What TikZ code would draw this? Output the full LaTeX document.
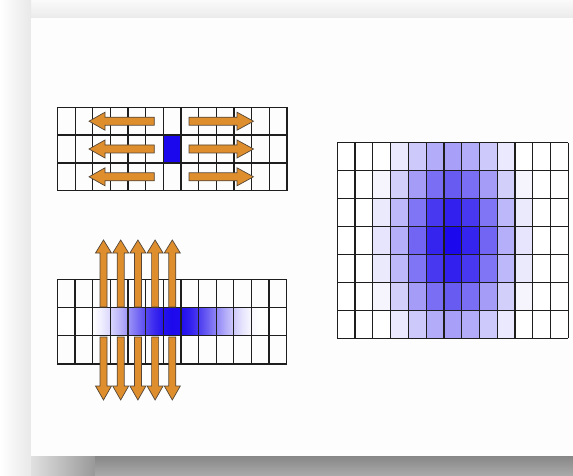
\documentclass[tikz,border=0pt]{standalone}
\usetikzlibrary{calc}
\definecolor{mblue}{RGB}{28,8,236}
\definecolor{morange}{RGB}{222,142,45}
\definecolor{mline}{RGB}{85,70,55}
\definecolor{gridc}{RGB}{30,30,30}
\definecolor{pagec}{RGB}{253,253,253}
\tikzset{
  gridline/.style={draw=gridc, line width=1.3pt},
  arr/.style={fill=morange, draw=mline, line width=0.7pt, line join=miter},
}
\begin{document}
\begin{tikzpicture}[x=1pt,y=-1pt]
\useasboundingbox (0,0) rectangle (573,476);
% page and shadows
\fill[pagec] (0,0) rectangle (573,476);
\shade[top color=black!2, bottom color=black!8] (0,0) rectangle (573,18);
\shade[left color=white, right color=black!9] (0,0) rectangle (31,476);
\shade[left color=black!12, right color=black!40] (31,456) rectangle (95,476);
\shade[top color=black!47, bottom color=black!33] (95,456) rectangle (573,476);
\fill[pagec] (31,18) rectangle (573,456);

% ---------- top-left grid ----------
\def\xa{57.5}\def\wa{17.65}\def\ya{107.3}\def\ha{27.8}
% blue source cell
\fill[mblue] (\xa+6*\wa,\ya+\ha) rectangle (\xa+7*\wa,\ya+2*\ha);
\foreach \i in {0,...,13} \draw[gridline] (\xa+\i*\wa,\ya) -- (\xa+\i*\wa,\ya+3*\ha);
\foreach \j in {0,...,3} \draw[gridline] (\xa,\ya+\j*\ha) -- (\xa+13*\wa,\ya+\j*\ha);
% horizontal arrows
\foreach \c in {121.2,149.0,176.8}{
  \draw[arr] (154.3,\c-4) -- (105,\c-4) -- (105,\c-9) -- (89,\c) -- (105,\c+9) -- (105,\c+4) -- (154.3,\c+4) -- cycle;
  \draw[arr] (189,\c-4) -- (237,\c-4) -- (237,\c-9) -- (253.5,\c) -- (237,\c+9) -- (237,\c+4) -- (189,\c+4) -- cycle;
}

% ---------- bottom-left grid ----------
\def\xb{57.3}\def\wb{17.65}\def\yb{279.3}\def\hb{28.2}
\foreach \i in {0,...,12}{
  \pgfmathsetmacro\vl{max(0,112*exp(-((\i-6.6)^2)/9.5)-12)}
  \pgfmathsetmacro\vm{max(0,112*exp(-((\i+0.5-6.6)^2)/9.5)-12)}
  \pgfmathsetmacro\vr{max(0,112*exp(-((\i+1-6.6)^2)/9.5)-12)}
  \shade[left color=mblue!\vl!white, right color=mblue!\vm!white]
    (\xb+\i*\wb,\yb+\hb) rectangle (\xb+\i*\wb+0.5*\wb,\yb+2*\hb);
  \shade[left color=mblue!\vm!white, right color=mblue!\vr!white]
    (\xb+\i*\wb+0.5*\wb,\yb+\hb) rectangle (\xb+\i*\wb+\wb,\yb+2*\hb);
}
\foreach \i in {0,...,13} \draw[gridline] (\xb+\i*\wb,\yb) -- (\xb+\i*\wb,\yb+3*\hb);
\foreach \j in {0,...,3} \draw[gridline] (\xb,\yb+\j*\hb) -- (\xb+13*\wb,\yb+\j*\hb);
% vertical arrows
\foreach \x in {103.5,120.7,137.9,155.1,172.3}{
  \draw[arr] (\x-3.5,307) -- (\x-3.5,253) -- (\x-8,253) -- (\x,240) -- (\x+8,253) -- (\x+3.5,253) -- (\x+3.5,307) -- cycle;
  \draw[arr] (\x-3.5,337) -- (\x-3.5,386) -- (\x-8,386) -- (\x,400) -- (\x+8,386) -- (\x+3.5,386) -- (\x+3.5,337) -- cycle;
}

% ---------- right grid ----------
\def\xc{337.3}\def\wc{17.77}\def\yc{142.7}\def\hc{27.94}
\foreach \i in {0,...,12}{
  \foreach \j in {0,...,6}{
    \pgfmathsetmacro\v{max(0,110*exp(-((\i-6)^2/9.5+(\j-3)^2/11))-10)}
    \fill[mblue!\v!white] (\xc+\i*\wc,\yc+\j*\hc) rectangle (\xc+\i*\wc+\wc,\yc+\j*\hc+\hc);
  }
}
\foreach \i in {0,...,13} \draw[gridline] (\xc+\i*\wc,\yc) -- (\xc+\i*\wc,\yc+7*\hc);
\foreach \j in {0,...,7} \draw[gridline] (\xc,\yc+\j*\hc) -- (\xc+13*\wc,\yc+\j*\hc);
\end{tikzpicture}
\end{document}
